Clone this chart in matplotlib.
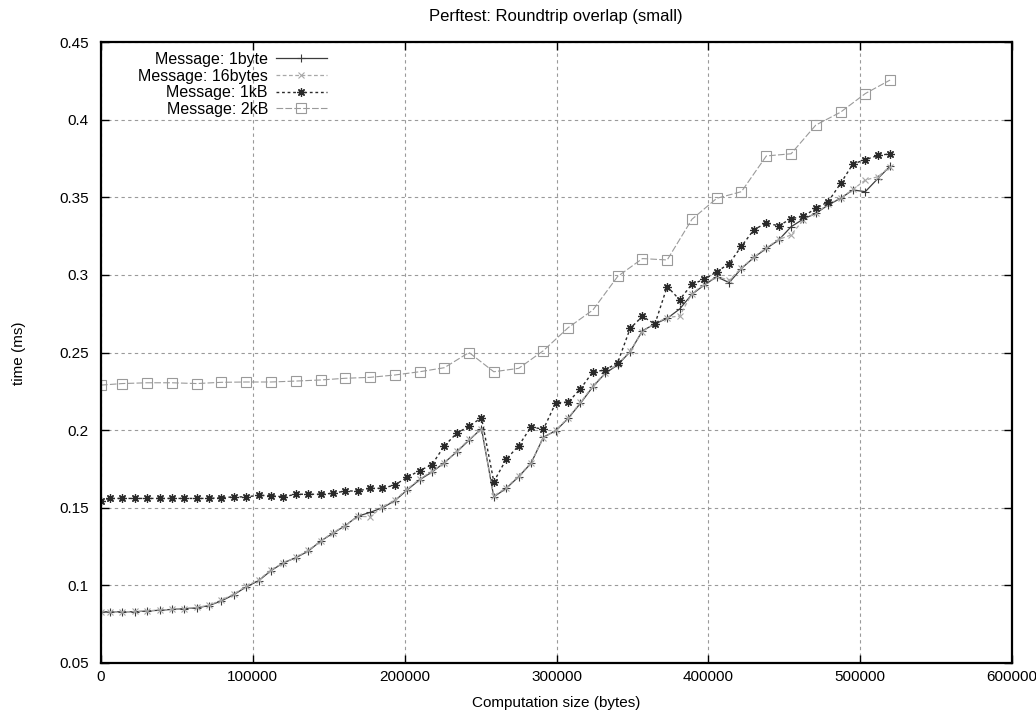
import matplotlib
matplotlib.use("Agg")
import matplotlib.pyplot as plt
from matplotlib.ticker import MultipleLocator, FormatStrFormatter

plt.rcParams['font.family'] = ['Liberation Sans', 'DejaVu Sans']

# x positions (bytes) of the dense series
x_small = [0, 5900, 14100, 22300, 30400, 38600, 46700, 54900, 63000, 71200, 79300,
           87500, 95600, 103800, 112000, 120100, 128300, 136400, 144600, 152700, 160900,
           169000, 177200, 185400, 193500, 201700, 209800, 218000, 226100, 234300, 242400,
           250600, 258700, 266900, 275100, 283200, 291400, 299500, 307700, 315800, 324000,
           332100, 340300, 348500, 356600, 364800, 372900, 381100, 389200, 397400, 405500,
           413700, 421800, 430000, 438200, 446300, 454500, 462600, 470800, 478900, 487100,
           495200, 503400, 511600, 519700]

y_1byte = [0.083, 0.083, 0.083, 0.083, 0.0835, 0.084, 0.0845, 0.085, 0.0855, 0.087, 0.090,
           0.094, 0.099, 0.103, 0.1095, 0.1145, 0.1178, 0.122, 0.1285, 0.1335, 0.1385,
           0.1445, 0.147, 0.150, 0.1545, 0.1615, 0.168, 0.173, 0.179, 0.186, 0.1935,
           0.201, 0.157, 0.1625, 0.170, 0.1786, 0.1955, 0.1996, 0.2076, 0.2173, 0.228,
           0.2366, 0.242, 0.2505, 0.264, 0.2684, 0.272, 0.278, 0.2875, 0.2935, 0.2988,
           0.2950, 0.3041, 0.3112, 0.317, 0.3224, 0.331, 0.336, 0.3396, 0.345, 0.3493,
           0.3547, 0.3536, 0.362, 0.370]

y_16bytes = [0.083, 0.083, 0.083, 0.0832, 0.0835, 0.0842, 0.0845, 0.085, 0.0858, 0.0872, 0.0905,
             0.0945, 0.0995, 0.1035, 0.110, 0.1145, 0.118, 0.1225, 0.1285, 0.134, 0.1385,
             0.1445, 0.1442, 0.1505, 0.155, 0.162, 0.1685, 0.1735, 0.179, 0.1865, 0.194,
             0.2005, 0.1575, 0.163, 0.1705, 0.179, 0.195, 0.200, 0.208, 0.2178, 0.2285,
             0.237, 0.2425, 0.251, 0.2635, 0.2688, 0.2725, 0.2735, 0.288, 0.294, 0.299,
             0.2965, 0.3045, 0.3115, 0.3175, 0.3228, 0.3257, 0.3355, 0.3398, 0.3455, 0.3495,
             0.355, 0.3611, 0.3632, 0.3697]

y_1kB = [0.1545, 0.156, 0.156, 0.156, 0.156, 0.156, 0.156, 0.156, 0.156, 0.156, 0.1565,
         0.157, 0.157, 0.158, 0.1578, 0.157, 0.1587, 0.1587, 0.1587, 0.1593, 0.1608,
         0.1608, 0.1625, 0.1625, 0.1647, 0.1696, 0.1739, 0.1778, 0.1898, 0.198, 0.2025,
         0.208, 0.1668, 0.1812, 0.190, 0.202, 0.2006, 0.2176, 0.218, 0.2266, 0.2376,
         0.2387, 0.2435, 0.2655, 0.2733, 0.2683, 0.2925, 0.284, 0.294, 0.2971, 0.302,
         0.3072, 0.3184, 0.3291, 0.3334, 0.3316, 0.3362, 0.3377, 0.3428, 0.3471, 0.3589,
         0.3714, 0.3742, 0.3769, 0.378]

x_2kB = [0, 14100, 30400, 46700, 63000, 79300, 95600, 112000, 128300, 144600, 160900,
         177200, 193500, 209800, 226100, 242400, 258700, 275100, 291400, 307700, 324000,
         340300, 356600, 372900, 389200, 405500, 421800, 438200, 454500, 470800, 487100,
         503400, 519700]
y_2kB = [0.229, 0.230, 0.2305, 0.2305, 0.230, 0.2308, 0.231, 0.231, 0.2316, 0.2323, 0.2334,
         0.234, 0.2355, 0.2376, 0.2402, 0.250, 0.2376, 0.2398, 0.2512, 0.266, 0.2774,
         0.299, 0.3105, 0.3096, 0.3358, 0.3493, 0.3536, 0.3766, 0.378, 0.3965, 0.4048,
         0.4168, 0.4255]

labels = ["Message: 1byte", "Message: 16bytes", "Message: 1kB", "Message: 2kB"]
x_ticks = [0, 100000, 200000, 300000, 400000, 500000, 600000]

W, H = 1036, 716
FS = 11

fig = plt.figure(figsize=(W / 100, H / 100), dpi=100)
ax = fig.add_axes([101 / W, 1 - 663 / H, 911 / W, 621 / H])

ax.plot(x_small, y_1byte, color='#3c3c3c', lw=0.9, ls='-', marker='+', ms=6, mew=0.8,
        label=labels[0])
ax.plot(x_small, y_16bytes, color='#a8a8a8', lw=0.9, ls=(0, (3, 2)), marker='x', ms=5, mew=0.8,
        label=labels[1])
ax.plot(x_small, y_1kB, color='#2a2a2a', lw=1.0, ls=(0, (2, 2)), marker=(8, 2, 0), ms=6, mew=0.9,
        label=labels[2])
ax.plot(x_2kB, y_2kB, color='#9a9a9a', lw=0.8, ls=(0, (6, 2)), marker='s', ms=7, mew=0.8,
        mfc='none', mec='#9a9a9a', label=labels[3])

ax.set_xlim(0, 600000)
ax.set_ylim(0.05, 0.45)
ax.set_xticks(x_ticks)
ax.set_xticklabels([str(t) for t in x_ticks])
ax.yaxis.set_major_locator(MultipleLocator(0.05))
ax.yaxis.set_major_formatter(FormatStrFormatter('%g'))
ax.tick_params(direction='in', top=True, right=True, length=6, width=1, labelsize=FS)
ax.tick_params(axis='y', pad=9)
ax.tick_params(axis='x', pad=5)
ax.grid(True, color='#9a9a9a', ls=(0, (3, 3)), lw=0.8)
for s in ax.spines.values():
    s.set_linewidth(1.6)

fig.text(556 / W, 1 - 16 / H, "Perftest: Roundtrip overlap (small)", fontsize=12,
         ha='center', va='center')
fig.text(556 / W, 1 - 703 / H, "Computation size (bytes)", fontsize=FS,
         ha='center', va='center')
fig.text(19 / W, 1 - 353 / H, "time (ms)", fontsize=FS, rotation=90,
         ha='center', va='center')

leg = ax.legend(loc='upper right', bbox_to_anchor=((327 - 101) / 911, (663 - 52) / 621),
                frameon=False, markerfirst=False, fontsize=11.5, handlelength=3.2,
                handletextpad=0.5, labelspacing=0.1, borderaxespad=0, borderpad=0)

fig.savefig("out.png", dpi=100)
